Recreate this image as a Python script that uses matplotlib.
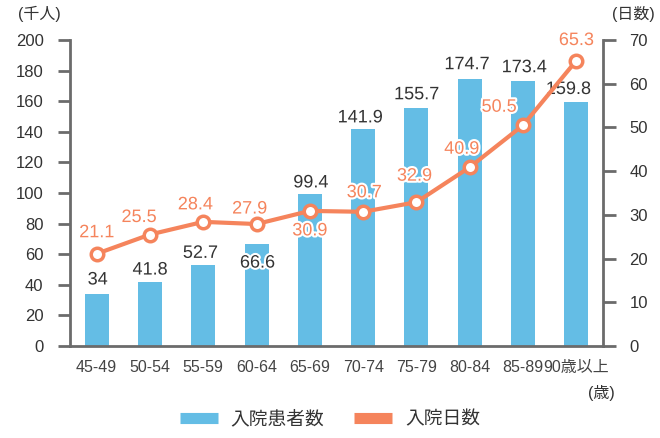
import matplotlib
matplotlib.use('Agg')
import matplotlib.pyplot as plt
import matplotlib.patheffects as pe
from matplotlib.lines import Line2D
import numpy as np

plt.rcParams['font.family'] = ['Liberation Sans', 'Noto Sans CJK JP']

ages = ['45-49', '50-54', '55-59', '60-64', '65-69', '70-74', '75-79', '80-84', '85-89', '90歳以上']
patients = [34, 41.8, 52.7, 66.6, 99.4, 141.9, 155.7, 174.7, 173.4, 159.8]
days = [21.1, 25.5, 28.4, 27.9, 30.9, 30.7, 32.9, 40.9, 50.5, 65.3]
patients_txt = ['34', '41.8', '52.7', '66.6', '99.4', '141.9', '155.7', '174.7', '173.4', '159.8']

# label offsets in pixels (dx, dy of text centre)
bar_off = [(1, 14), (0, 12), (-3, 12), (1, -19), (1, 11), (-3, 11), (0, 13), (-3, 14), (1, 13), (-8, 12)]
line_off = [(0, 21), (-11, 17), (-8, 17), (-7, 15), (0, -20), (1, 19), (-2, 26), (-8, 18), (-24, 18), (0, 20)]

blue = '#64bde5'
orange = '#f5845c'
gray = '#6b6b6b'
txt = '#333333'

fig = plt.figure(figsize=(6.6, 4.38), dpi=100)
ax = fig.add_axes([70/660, 92/438, 533/660, 306/438])
ax2 = ax.twinx()

x = np.arange(len(ages))
ax.bar(x, patients, width=0.45, color=blue, zorder=2)
ax2.plot(x, days, color=orange, lw=3, marker='o', ms=9, mfc='white', mec=orange, mew=2.5, zorder=3)

stroke = [pe.withStroke(linewidth=3, foreground='white')]
for i in range(len(ages)):
    ax.annotate(patients_txt[i], (x[i], patients[i]), xytext=bar_off[i], textcoords='offset pixels',
                ha='center', va='center', fontsize=13, color=txt, path_effects=stroke, zorder=5)
    ax2.annotate(f'{days[i]:.1f}', (x[i], days[i]), xytext=line_off[i], textcoords='offset pixels',
                 ha='center', va='center', fontsize=13, color=orange, path_effects=stroke, zorder=6)

ax.set_xlim(-0.5, len(ages) - 0.5)
ax.set_ylim(0, 200)
ax.set_yticks(range(0, 201, 20))
ax2.set_ylim(0, 70)
ax2.set_yticks(range(0, 71, 10))
ax.set_xticks(x)
ax.set_xticklabels(ages)

for a in (ax, ax2):
    a.spines['top'].set_visible(False)
    for s in ('left', 'right', 'bottom'):
        a.spines[s].set_color(gray)
        a.spines[s].set_linewidth(2)
    a.tick_params(axis='y', length=9, width=2, color=gray, labelsize=12, labelcolor=txt, pad=10)
ax.spines['right'].set_visible(False)
ax2.spines['left'].set_visible(False)
ax2.spines['bottom'].set_visible(False)
ax.tick_params(axis='x', length=0, labelsize=11.5, labelcolor='#444444', pad=10)
ax.set_zorder(ax2.get_zorder() - 1)
ax.patch.set_visible(False)

fig.text(18/660, 1 - 14/438, '(千人)', fontsize=11.5, color=txt, ha='left', va='center')
fig.text(612/660, 1 - 14/438, '(日数)', fontsize=11.5, color=txt, ha='left', va='center')
fig.text(601/660, 1 - 393/438, '(歳)', fontsize=11.5, color=txt, ha='center', va='center')

handles = [Line2D([], [], color=blue, lw=8, solid_capstyle='butt'),
           Line2D([], [], color=orange, lw=8, solid_capstyle='butt')]
fig.legend(handles, ['入院患者数', '入院日数'], loc='center', bbox_to_anchor=(0.5, 1 - 420/438),
           ncol=2, frameon=False, fontsize=13.5, handlelength=2.0, handletextpad=0.7, columnspacing=1.6,
           labelcolor=txt)

fig.savefig('out.png', dpi=100)
